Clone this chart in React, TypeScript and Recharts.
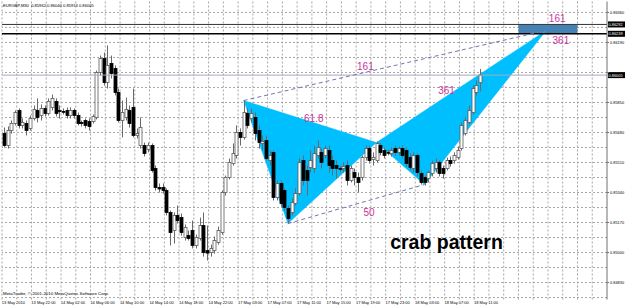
import React from "react";
import {
  ComposedChart,
  Bar,
  Scatter,
  XAxis,
  YAxis,
  ReferenceLine,
  ReferenceArea,
  ReferenceDot,
} from "recharts";

// EURGBP M30 candles
const opens = [
  0.85674, 0.85606, 0.85691, 0.85731, 0.85805, 0.8572, 0.85731, 0.85703, 0.85759, 0.85805,
  0.85776, 0.85816, 0.85788, 0.85822, 0.85856, 0.85805, 0.85799, 0.85805, 0.85776, 0.85805,
  0.85776, 0.85737, 0.85748, 0.85742, 0.85742, 0.85765, 0.8602, 0.86099, 0.85963, 0.86071,
  0.86043, 0.85907, 0.85748, 0.85765, 0.85805, 0.85822, 0.85663, 0.85606, 0.85606, 0.85584,
  0.85606, 0.85476, 0.85368, 0.85368, 0.85351, 0.85227, 0.85125, 0.8521, 0.85198, 0.85085,
  0.85096, 0.85125, 0.8504, 0.85079, 0.85153, 0.85011, 0.85, 0.85011, 0.85057, 0.85113,
  0.8534, 0.85425, 0.85504, 0.8555, 0.8568, 0.85652, 0.85788, 0.85759, 0.85765, 0.85691,
  0.85618, 0.85635, 0.85521, 0.85567, 0.85312, 0.85391, 0.85351, 0.85249, 0.85227, 0.85278,
  0.85334, 0.85521, 0.85465, 0.85482, 0.85476, 0.8555, 0.85567, 0.8555, 0.85578, 0.85521,
  0.85493, 0.85476, 0.85476, 0.85493, 0.85408, 0.85453, 0.85425, 0.85425, 0.85538, 0.85589,
  0.85527, 0.85521, 0.85606, 0.85578, 0.85567, 0.85561, 0.85589, 0.85567, 0.85589, 0.85578,
  0.85538, 0.85476, 0.8555, 0.85448, 0.85425, 0.85419, 0.85448, 0.85476, 0.8551, 0.85476,
  0.85476, 0.85521, 0.85521, 0.85538, 0.85589, 0.85674, 0.85737, 0.85793, 0.85907, 0.85962,
];
const highs = [
  0.85708, 0.85714, 0.85748, 0.85805, 0.85816, 0.85759, 0.85748, 0.85776, 0.85833, 0.85873,
  0.85839, 0.85833, 0.85873, 0.85895, 0.85873, 0.85833, 0.85816, 0.85822, 0.85822, 0.85816,
  0.85793, 0.85748, 0.85759, 0.85759, 0.85782, 0.86031, 0.86116, 0.86133, 0.86173, 0.86116,
  0.8606, 0.85929, 0.85861, 0.85878, 0.85833, 0.85929, 0.85703, 0.85765, 0.85623, 0.85623,
  0.85618, 0.85493, 0.85391, 0.85391, 0.85363, 0.85238, 0.85227, 0.85266, 0.85221, 0.85159,
  0.85125, 0.85181, 0.85102, 0.85198, 0.85227, 0.85153, 0.85045, 0.85091, 0.85147, 0.85351,
  0.85436, 0.85533, 0.85618, 0.8572, 0.85703, 0.85861, 0.85816, 0.85816, 0.85793, 0.8572,
  0.85663, 0.85663, 0.85578, 0.85578, 0.85408, 0.85408, 0.85363, 0.85266, 0.85306, 0.85363,
  0.85533, 0.8555, 0.85493, 0.85578, 0.85606, 0.85635, 0.85589, 0.85606, 0.85606, 0.8555,
  0.85521, 0.85493, 0.8551, 0.85521, 0.85493, 0.85476, 0.85453, 0.8555, 0.85606, 0.85606,
  0.85567, 0.85629, 0.85618, 0.85595, 0.85584, 0.85595, 0.85606, 0.85601, 0.85606, 0.85595,
  0.85561, 0.85567, 0.85561, 0.85465, 0.85436, 0.85465, 0.85521, 0.85533, 0.85521, 0.85493,
  0.85538, 0.85544, 0.85567, 0.85601, 0.85737, 0.85765, 0.85833, 0.85946, 0.85975, 0.8604,
];
const lows = [
  0.85595, 0.85589, 0.85674, 0.8572, 0.85703, 0.85703, 0.85663, 0.85691, 0.85748, 0.85737,
  0.85748, 0.85771, 0.85776, 0.85805, 0.85771, 0.85759, 0.85782, 0.85759, 0.85759, 0.85759,
  0.8572, 0.85714, 0.85703, 0.85691, 0.85731, 0.85754, 0.86003, 0.85946, 0.85929, 0.85986,
  0.8589, 0.85737, 0.85652, 0.85748, 0.85708, 0.85652, 0.85646, 0.85589, 0.85544, 0.85567,
  0.85453, 0.85351, 0.8534, 0.85334, 0.8521, 0.8504, 0.85051, 0.85164, 0.85096, 0.85068,
  0.85068, 0.85023, 0.85023, 0.85068, 0.84977, 0.84955, 0.84977, 0.84994, 0.85045, 0.85102,
  0.85323, 0.85414, 0.85493, 0.85533, 0.85606, 0.8564, 0.85703, 0.85737, 0.85635, 0.85589,
  0.85578, 0.85521, 0.85493, 0.85295, 0.85295, 0.85261, 0.85238, 0.85164, 0.8521, 0.85266,
  0.85323, 0.8538, 0.85323, 0.85453, 0.85453, 0.85533, 0.85476, 0.85533, 0.85453, 0.85436,
  0.85419, 0.85453, 0.85453, 0.8538, 0.85397, 0.8538, 0.8534, 0.85408, 0.85521, 0.85504,
  0.85493, 0.8551, 0.8555, 0.85533, 0.8555, 0.85544, 0.8555, 0.8555, 0.85533, 0.85487,
  0.85465, 0.85453, 0.85431, 0.85385, 0.8538, 0.85397, 0.85431, 0.85453, 0.85431, 0.85419,
  0.85465, 0.85487, 0.85504, 0.85527, 0.85578, 0.85663, 0.85725, 0.85782, 0.8589, 0.85913,
];
const closes = [
  0.85606, 0.85691, 0.85731, 0.85793, 0.8572, 0.85737, 0.85691, 0.85759, 0.8581, 0.85765,
  0.85816, 0.85788, 0.85856, 0.85873, 0.85788, 0.85799, 0.85796, 0.85776, 0.85805, 0.85776,
  0.85731, 0.85731, 0.8572, 0.85714, 0.85771, 0.8602, 0.86099, 0.85963, 0.8606, 0.86014,
  0.85907, 0.85748, 0.85793, 0.8581, 0.85731, 0.85663, 0.85674, 0.85708, 0.85561, 0.85606,
  0.85465, 0.85368, 0.8536, 0.85351, 0.85227, 0.85113, 0.8521, 0.85181, 0.85113, 0.85142,
  0.85079, 0.8504, 0.85085, 0.85153, 0.85, 0.84997, 0.85023, 0.85068, 0.85125, 0.8534,
  0.85425, 0.8551, 0.85561, 0.8568, 0.85652, 0.85793, 0.8572, 0.85788, 0.85674, 0.85623,
  0.85629, 0.85533, 0.8555, 0.85312, 0.85391, 0.85278, 0.85255, 0.85193, 0.85283, 0.85334,
  0.8551, 0.85408, 0.85408, 0.85521, 0.85561, 0.85595, 0.8551, 0.85589, 0.85493, 0.85476,
  0.85476, 0.85473, 0.85487, 0.85408, 0.85476, 0.85425, 0.85397, 0.85538, 0.85589, 0.85521,
  0.85538, 0.85618, 0.85567, 0.8555, 0.85564, 0.85578, 0.85567, 0.85589, 0.8555, 0.85504,
  0.85482, 0.8555, 0.85453, 0.85397, 0.85397, 0.85453, 0.85504, 0.8551, 0.85448, 0.85448,
  0.85521, 0.85504, 0.8555, 0.85578, 0.8572, 0.85748, 0.85805, 0.85929, 0.85946, 0.86005,
];

const timeLabels = [
  "13 May 2010", "13 May 22:00", "14 May 02:00", "14 May 06:00", "14 May 10:00",
  "14 May 14:00", "14 May 18:00", "14 May 22:00", "17 May 03:00", "17 May 07:00",
  "17 May 11:00", "17 May 15:00", "17 May 19:00", "17 May 23:00", "18 May 03:00",
  "18 May 07:00", "18 May 11:00",
];
const priceTicks = [
  0.84745, 0.8483, 0.84915, 0.85, 0.85085, 0.8517, 0.85255, 0.8534, 0.85425, 0.8551,
  0.85595, 0.8568, 0.85765, 0.8585, 0.85935, 0.8602, 0.86105, 0.8619, 0.86275, 0.8636,
];

// crab pattern points (bar index, price)
const xabIdx = [65, 77, 101];
const xabPrice = [0.85861, 0.85164, 0.85623];
const bcdIdx = [101, 114, 147];
const bcdPrice = [0.85623, 0.85385, 0.86258];
const xdIdx = [65, 147];
const xdPrice = [0.85861, 0.86258];
const acIdx = [77, 114];
const acPrice = [0.85164, 0.85385];

const ratioText = ["61.8", "50", "161", "361", "161", "361"];
const ratioIdx = [84, 99, 98, 120, 150, 151];
const ratioPrice = [0.85759, 0.85227, 0.86054, 0.85918, 0.86326, 0.86201];

const zoneIdx = [140, 155];
const zonePrice = [0.86239, 0.86292];
const levelPrices = [0.86292, 0.86239];
const lastPrice = 0.86005;

const SLOTS = 164; // bars + right shift
const BARS_PER_LABEL = 8;
const BARS_PER_GRID = 4;

const rows: any[] = Array.from({ length: SLOTS }, (_, i) => {
  const r: any = { i };
  if (i < opens.length) {
    r.o = opens[i];
    r.h = highs[i];
    r.l = lows[i];
    r.c = closes[i];
    r.range = [lows[i], highs[i]];
  }
  return r;
});
xabIdx.forEach((k, j) => (rows[k].xab = xabPrice[j]));
bcdIdx.forEach((k, j) => (rows[k].bcd = bcdPrice[j]));
xdIdx.forEach((k, j) => (rows[k].xd = xdPrice[j]));
acIdx.forEach((k, j) => (rows[k].ac = acPrice[j]));

const gridBars: number[] = [];
for (let i = 0; i < SLOTS; i += BARS_PER_GRID) gridBars.push(i);

const FONT = "'Liberation Sans', Arial, sans-serif";
const PINK = "#cc3399";
const GRID = "#a6a6a6";

const Candle = (props: any) => {
  const { payload } = props;
  let { x, y, width, height } = props;
  if (!payload || payload.o == null || !Number.isFinite(y) || !Number.isFinite(height)) return <g />;
  if (height < 0) {
    y = y + height;
    height = -height;
  }
  const { o, h, l, c } = payload;
  const k = h - l > 0 ? height / (h - l) : 0;
  const top = y + (h - Math.max(o, c)) * k;
  const bot = y + (h - Math.min(o, c)) * k;
  const cx = Math.round(x + width / 2) + 0.5;
  const up = c >= o;
  return (
    <g>
      <line x1={cx} x2={cx} y1={y} y2={y + height} stroke="#6a6a6a" strokeWidth={1} />
      <rect
        x={cx - 1.5}
        y={top}
        width={3}
        height={Math.max(bot - top, 0.8)}
        fill={up ? "#ffffff" : "#000000"}
        stroke={up ? "#5a5a5a" : "#000000"}
        strokeWidth={0.8}
      />
    </g>
  );
};

const validPts = (p: any) =>
  (p.points || []).filter((q: any) => q && Number.isFinite(q.x) && Number.isFinite(q.y));

const fillTriangle = (p: any) => (
  <polygon
    points={validPts(p).map((q: any) => `${q.x},${q.y}`).join(" ")}
    fill="#00bfff"
    stroke="#00bfff"
    strokeWidth={0.5}
  />
);

const dashedLine = (p: any) => (
  <polyline
    points={validPts(p).map((q: any) => `${q.x},${q.y}`).join(" ")}
    fill="none"
    stroke="#7474b0"
    strokeWidth={1}
    strokeDasharray="4 3"
  />
);

const NoDot = () => <g />;

const TimeTick = (p: any) => {
  const k = p.payload.value / BARS_PER_LABEL;
  const label = Number.isInteger(k) ? timeLabels[k] : undefined;
  if (!label) return <g />;
  return (
    <text x={p.x - 2} y={p.y + 4.8} fontSize={4} fill="#000" fontFamily={FONT}>
      {label}
    </text>
  );
};

const PriceTick = (p: any) => {
  const v = Number(p.payload.value);
  // the last-price tag sits on top of this one in the terminal
  if (Math.abs(v - lastPrice) < 0.0002) return <g />;
  return (
    <text x={p.x + 1} y={p.y + 1.5} fontSize={3.9} fill="#000" fontFamily={FONT}>
      {v.toFixed(5)}
    </text>
  );
};

const priceTag = (text: string) => (lp: any) => {
  const vb = lp.viewBox || {};
  const right = (vb.x ?? 0) + (vb.width ?? 0);
  return (
    <g>
      <rect x={right + 1} y={vb.y - 3} width={17} height={6} fill="#000" />
      <text x={right + 1.5} y={vb.y + 1.5} fontSize={3.9} fill="#fff" fontFamily={FONT}>
        {text}
      </text>
    </g>
  );
};

export default function App() {
  return (
    <div style={{ position: "fixed", left: 0, top: 0, width: 625, height: 306, background: "#fff", overflow: "hidden" }}>
      <ComposedChart
        width={625}
        height={306}
        data={rows}
        margin={{ top: 1.5, right: 0, bottom: 0, left: 2 }}
        barCategoryGap={0}
        style={{ fontFamily: FONT }}
      >
        {/* dotted terminal grid, kept under the pattern and candles */}
        {priceTicks.map((p) => (
          <ReferenceLine key={"h" + p} y={p} stroke={GRID} strokeDasharray="2 2" zIndex={50} />
        ))}
        {gridBars.map((b) => (
          <ReferenceLine key={"v" + b} x={b} position="start" stroke={GRID} strokeDasharray="2 2" zIndex={50} />
        ))}
        <XAxis
          dataKey="i"
          type="category"
          interval={BARS_PER_LABEL - 1}
          height={6.5}
          tickSize={0}
          tickMargin={0}
          axisLine={false}
          tick={<TimeTick />}
        />
        <YAxis
          orientation="right"
          type="number"
          domain={[0.84734, 0.86422]}
          allowDataOverflow
          ticks={priceTicks}
          width={18}
          tickSize={2}
          tickMargin={0}
          axisLine={{ stroke: "#707070" }}
          tickLine={{ stroke: "#707070" }}
          tick={<PriceTick />}
        />
        <ReferenceArea
          x1={zoneIdx[0]}
          x2={zoneIdx[1]}
          y1={zonePrice[0]}
          y2={zonePrice[1]}
          fill="#4682b4"
          fillOpacity={1}
          stroke="none"
        />
        <ReferenceLine y={lastPrice} stroke="#a8a8c4" strokeWidth={1} label={priceTag(lastPrice.toFixed(5))} />
        <ReferenceLine y={levelPrices[0]} stroke="#333" strokeWidth={1} label={priceTag(levelPrices[0].toFixed(5))} />
        <ReferenceLine y={levelPrices[1]} stroke="#000" strokeWidth={1.5} label={priceTag(levelPrices[1].toFixed(5))} />
        <Scatter dataKey="xab" isAnimationActive={false} shape={NoDot} line={fillTriangle} zIndex={250} />
        <Scatter dataKey="bcd" isAnimationActive={false} shape={NoDot} line={fillTriangle} zIndex={250} />
        <Bar dataKey="range" isAnimationActive={false} shape={Candle} />
        <Scatter dataKey="xd" isAnimationActive={false} shape={NoDot} line={dashedLine} />
        <Scatter dataKey="ac" isAnimationActive={false} shape={NoDot} line={dashedLine} />
        {ratioText.map((t, j) => (
          <ReferenceDot
            key={j}
            x={ratioIdx[j]}
            y={ratioPrice[j]}
            r={0}
            fill="none"
            stroke="none"
            label={{ value: t, position: "center", fill: PINK, fontSize: 10, fontFamily: FONT }}
          />
        ))}
        <ReferenceDot
          x={120}
          y={0.85062}
          r={0}
          fill="none"
          stroke="none"
          label={{ value: "crab pattern", position: "center", fill: "#000", fontSize: 19.5, fontWeight: "bold", fontFamily: FONT }}
        />
        <ReferenceArea fill="none" stroke="#8a8a8a" strokeWidth={1} />
      </ComposedChart>
      <div style={{ position: "absolute", left: 3, top: 2.5, fontSize: 4.1, lineHeight: "5px", fontFamily: FONT, color: "#000", whiteSpace: "nowrap" }}>
        EURGBP,M30&nbsp; 0.85962 0.86040 0.85913 0.86005
      </div>
      <div style={{ position: "absolute", left: 3, top: 290.5, fontSize: 4.4, lineHeight: "5px", fontFamily: FONT, color: "#000", whiteSpace: "nowrap" }}>
        MetaTrader, © 2001-2010 MetaQuotes Software Corp.
      </div>
    </div>
  );
}
